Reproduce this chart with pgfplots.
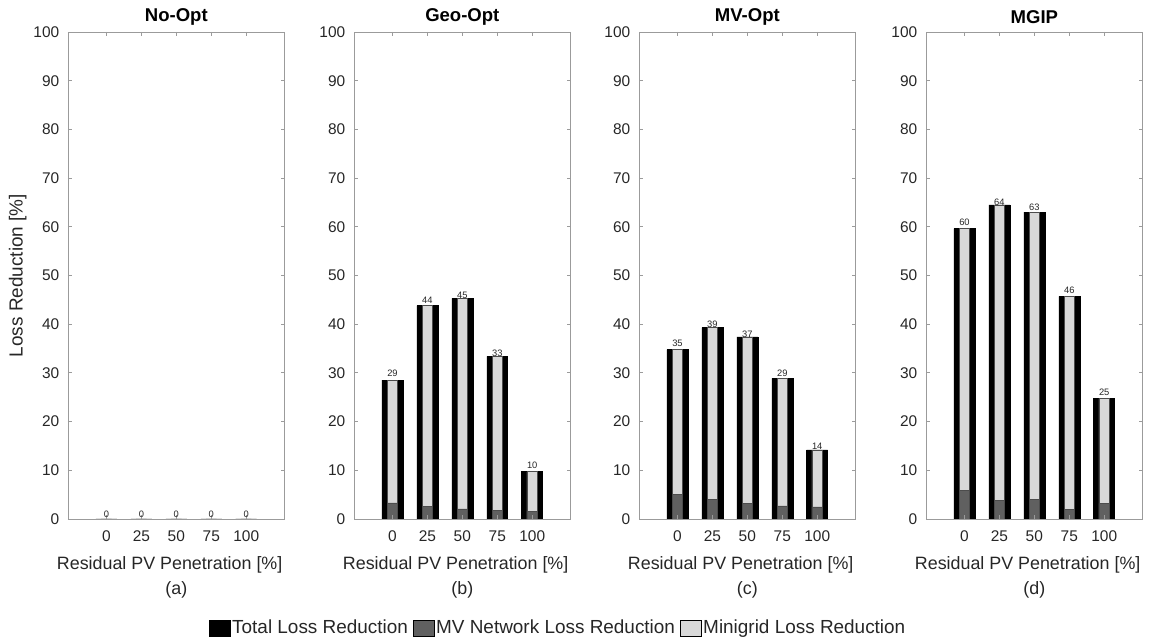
\documentclass[border=0pt]{standalone}
\usepackage{pgfplots}
\usepackage{pgfplotstable}
\pgfplotsset{compat=1.18}
\usepackage{fontspec}
\setmainfont{Liberation Sans}
\definecolor{axgray}{RGB}{155,155,155}
\definecolor{txtgray}{RGB}{38,38,38}
\definecolor{mvgray}{RGB}{96,96,96}
\definecolor{mggray}{RGB}{217,217,217}

\pgfplotstableread{
x total mv lab
0 0 0 0
1 0 0 0
2 0 0 0
3 0 0 0
4 0 0 0
}\noopt
\pgfplotstableread{
x total mv lab
0 28.5 3.3 29
1 43.8 2.6 44
2 45.3 2.1 45
3 33.4 1.7 33
4 9.7 1.6 10
}\geoopt
\pgfplotstableread{
x total mv lab
0 34.8 5.0 35
1 39.3 4.0 39
2 37.4 3.2 37
3 28.9 2.7 29
4 14.2 2.5 14
}\mvopt
\pgfplotstableread{
x total mv lab
0 59.6 5.9 60
1 64.5 3.8 64
2 63.0 4.0 63
3 45.7 2.0 46
4 24.7 3.2 25
}\mgip

\pgfplotsset{
  panel/.style={
    scale only axis, width=162.5pt, height=365.25pt,
    xmin=-1.1, xmax=5.1, ymin=0, ymax=100,
    xtick={0,1,2,3,4}, xticklabels={0,25,50,75,100},
    ytick={0,10,...,100},
    tick align=inside, major tick length=3pt,
    axis line style={axgray, line width=0.6pt},
    every tick/.style={axgray, line width=0.6pt},
    tick label style={font=\fontsize{11.6}{12}\selectfont, text=txtgray},
    xticklabel style={yshift=-5pt},
    yticklabel style={xshift=-3pt},
    /pgf/number format/assume math mode=true,
    xlabel={Residual PV Penetration [\%]},
    xlabel style={font=\fontsize{13.4}{15}\selectfont, text=txtgray, at={(axis description cs:0.5,0)}, anchor=center, yshift=-34.5pt, xshift=-5pt},
    title style={font=\bfseries\fontsize{13.9}{15}\selectfont, at={(axis description cs:0.5,1)}, anchor=center, yshift=5.5pt},
    ylabel style={font=\fontsize{14.2}{15}\selectfont, text=txtgray, at={(axis description cs:-0.2315,0.5)}, anchor=center},
    axis on top, clip=false,
    legend image code/.code={\draw[#1, draw=black, line width=0.4pt] (0pt,-6pt) rectangle (15.75pt,6pt);},
  },
  totbar/.style={ybar, bar width=0.6, bar shift=0pt, fill=black, draw=black, line width=0.4pt, forget plot},
  mgbar/.style={ybar, bar width=0.3, bar shift=0pt, fill=mggray, draw=black!70, line width=0.4pt, forget plot},
  mvbar/.style={ybar, bar width=0.3, bar shift=0pt, fill=mvgray, draw=black!70, line width=0.4pt, forget plot},
  labplot/.style={draw=none, mark=none, forget plot, nodes near coords, point meta=explicit symbolic,
    every node near coord/.append style={font=\fontsize{7}{7}\selectfont, text=txtgray, anchor=center, inner sep=0pt}},
}

\newcommand{\panel}[1]{%
  \addplot[totbar] table[x=x, y=total]{#1};
  \addplot[mgbar] table[x=x, y=total]{#1};
  \addplot[mvbar] table[x=x, y=mv]{#1};
  \addplot[labplot] table[x=x, y expr=\thisrow{lab}+1, meta=lab]{#1};
}

\begin{document}
\begin{tikzpicture}
\useasboundingbox (0,0) rectangle (877.5pt,480.75pt);

\begin{axis}[panel, at={(51pt,91.5pt)}, anchor=south west, title={No-Opt}, ylabel={Loss Reduction [\%]}]
\panel{\noopt}
\node[font=\fontsize{13.4}{15}\selectfont, text=txtgray] at (axis description cs:0.5,0) [yshift=-53.25pt] {(a)};
\end{axis}

\begin{axis}[panel, at={(265.5pt,91.5pt)}, anchor=south west, title={Geo-Opt},
  legend columns=3,
  legend style={at={(axis description cs:0.94,-0.2238)}, anchor=center, draw=none, fill=none,
    font=\fontsize{14.2}{15}\selectfont, text=txtgray, inner sep=0pt,
    nodes={inner sep=1pt},
    /tikz/every odd column/.append style={column sep=0.5pt},
    /tikz/every even column/.append style={column sep=2.5pt}}]
\addlegendimage{fill=black}
\addlegendimage{fill=mvgray}
\addlegendimage{fill=mggray}
\panel{\geoopt}
\legend{Total Loss Reduction, MV Network Loss Reduction, Minigrid Loss Reduction}
\node[font=\fontsize{13.4}{15}\selectfont, text=txtgray] at (axis description cs:0.5,0) [yshift=-53.25pt] {(b)};
\end{axis}

\begin{axis}[panel, at={(479.25pt,91.5pt)}, anchor=south west, title={MV-Opt}]
\panel{\mvopt}
\node[font=\fontsize{13.4}{15}\selectfont, text=txtgray] at (axis description cs:0.5,0) [yshift=-53.25pt] {(c)};
\end{axis}

\begin{axis}[panel, at={(694.5pt,91.5pt)}, anchor=south west, title={MGIP}]
\panel{\mgip}
\node[font=\fontsize{13.4}{15}\selectfont, text=txtgray] at (axis description cs:0.5,0) [yshift=-53.25pt] {(d)};
\end{axis}
\end{tikzpicture}
\end{document}
